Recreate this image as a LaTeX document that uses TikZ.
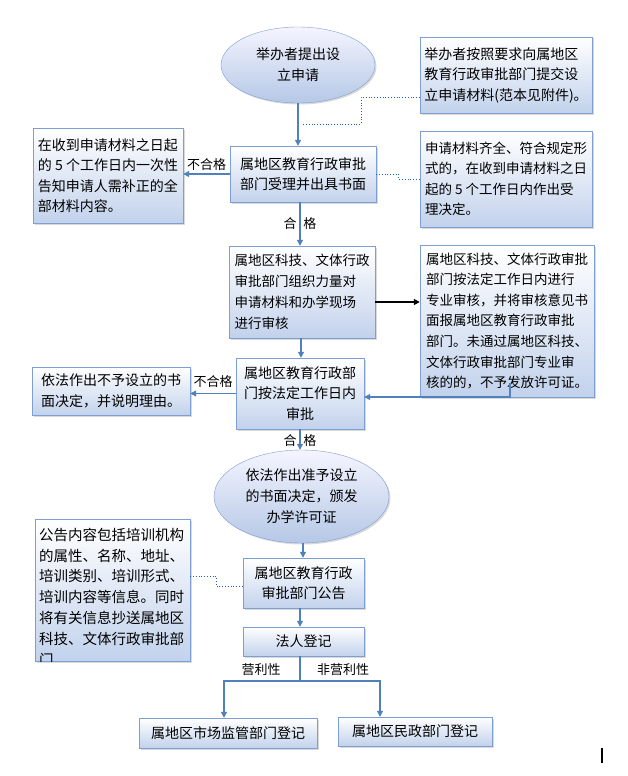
\documentclass[tikz,border=0pt]{standalone}
\usepackage{fontspec}
\setmainfont{Noto Sans CJK SC}
\usepackage{tikz}
\usetikzlibrary{shapes.geometric,shadows,arrows.meta}
\definecolor{bordc}{HTML}{7F9FD3}
\definecolor{fillc}{HTML}{C2D2EC}
\definecolor{ovalc}{HTML}{B5C8E6}
\definecolor{arrc}{HTML}{4F81BD}
\definecolor{dotc}{HTML}{1F5FBF}
\tikzset{
  box/.style={draw=bordc, top color=white, bottom color=fillc, inner sep=4pt, align=left,
    drop shadow={shadow xshift=1.5pt, shadow yshift=-1.5pt, opacity=.3},
    font=\fontsize{14}{20.5}\selectfont},
  oval/.style={ellipse, draw=bordc, top color=blue!4!white, bottom color=ovalc, inner sep=0pt, align=center,
    drop shadow={shadow xshift=1.5pt, shadow yshift=-1.5pt, opacity=.3},
    font=\fontsize{14}{21}\selectfont},
  arr/.style={arrc, line width=1.1pt, -{Triangle[length=6pt,width=6pt]}},
  blk/.style={black, line width=1.6pt, -{Triangle[length=6pt,width=6pt]}},
  dotlink/.style={dotc, dotted, line width=.8pt},
  lab/.style={text=black, font=\fontsize{13}{16}\selectfont, inner sep=1pt}
}
\begin{document}
\begin{tikzpicture}[x=1pt,y=-1pt]
\useasboundingbox (0,0) rectangle (627,776);
\node[oval, minimum width=154pt, minimum height=76pt] (e1) at (298,65) {举办者提出设\\立申请};
\node[box, minimum width=172pt, minimum height=76pt] (rb1) at (506,75) {举办者按照要求向属地区\\教育行政审批部门提交设\\立申请材料(范本见附件)。};
\node[box, minimum width=146pt, minimum height=56pt] (b2) at (303,174) {属地区教育行政审批\\部门受理并出具书面};
\node[box, minimum width=150pt, minimum height=95pt] (lb1) at (108,175.5) {在收到申请材料之日起\\的 5 个工作日内一次性\\告知申请人需补正的全\\部材料内容。};
\node[box, minimum width=172pt, minimum height=96pt, font=\fontsize{13.5}{20.5}\selectfont] (rb2) at (506,179) {申请材料齐全、符合规定形\\式的，在收到申请材料之日\\起的 5 个工作日内作出受\\理决定。};
\node[box, minimum width=146pt, minimum height=92pt, font=\fontsize{13.5}{21}\selectfont] (b3) at (302,292) {属地区科技、文体行政\\审批部门组织力量对\\申请材料和办学现场\\进行审核};
\node[box, minimum width=174pt, minimum height=152pt, font=\fontsize{13.5}{20.6}\selectfont] (rb3) at (507,321) {属地区科技、文体行政审批\\部门按法定工作日内进行\\专业审核，并将审核意见书\\面报属地区教育行政审批\\部门。未通过属地区科技、\\文体行政审批部门专业审\\核的的，不予发放许可证。};
\node[box, minimum width=128pt, minimum height=71pt, align=center, font=\fontsize{14}{20.3}\selectfont] (b4) at (300,393.5) {属地区教育行政部\\门按法定工作日内\\审批};
\node[box, minimum width=158pt, minimum height=48pt, font=\fontsize{14}{21}\selectfont] (lb2) at (111,391) {依法作出不予设立的书\\面决定，并说明理由。};
\node[oval, minimum width=175pt, minimum height=93pt] (e2) at (301.5,496.5) {依法作出准予设立\\的书面决定，颁发\\办学许可证};
\node[box, minimum width=121pt, minimum height=50pt, align=center, font=\fontsize{14}{20}\selectfont] (b5) at (303.5,583) {属地区教育行政\\审批部门公告};
\node[box, minimum width=155pt, minimum height=142pt] (lb3) at (112.5,590) {};
\begin{scope}
\clip (lb3.south west) rectangle (lb3.north east);
\node[anchor=north west, inner sep=4pt, align=left, font=\fontsize{14.5}{20.8}\selectfont] (lb3t) at ([yshift=-5pt]lb3.north west) {公告内容包括培训机构\\的属性、名称、地址、\\培训类别、培训形式、\\培训内容等信息。同时\\将有关信息抄送属地区\\科技、文体行政审批部\\门};
\end{scope}
\node[box, minimum width=121pt, minimum height=29pt, align=center] (b6) at (303.5,641.5) {法人登记};
\node[box, minimum width=178pt, minimum height=30pt, align=center] (b7) at (228,733) {属地区市场监管部门登记};
\node[box, minimum width=154pt, minimum height=29pt, align=center] (b8) at (415,731.5) {属地区民政部门登记};
\coordinate (c1) at (302,124);
\coordinate (c2) at (510,383);
\coordinate (sp) at (300,681);
\draw[arr] (e1.south) -- (e1.south |- b2.north);
\draw[dotlink] ([yshift=-22pt]rb1.west) -| (361,124) -- (c1);
\draw[arr] (b2.west) -- (b2.west -| lb1.east) node[lab, midway, above=2pt] {不合格};
\draw[dotlink] (b2.east) -- ++(22,0) |- (rb2.west);
\draw[arr] (b2.south -| 300,0) -- (b3.north -| 300,0) node[lab, midway] {合\hspace{7pt}格};
\draw[blk] ([yshift=-10pt]b3.east) -- ([yshift=-10pt]b3.east -| rb3.west);
\draw[arr] (b3.south -| 301,0) -- (b4.north -| 301,0);
\draw[arr] (c2) |- ([yshift=-3.5pt]b4.east);
\draw[arr] (b4.west) -- (b4.west -| lb2.east) node[lab, midway, above=4pt] {不合格};
\draw[arr] (b4.south -| 300,0) -- (e2.north -| 300,0) node[lab, pos=.55] {合\hspace{7pt}格};
\draw[arr] (e2.south -| 303,0) -- (b5.north -| 303,0);
\draw[dotlink] ([yshift=14pt]lb3.east) -- ++(26,0) |- ([yshift=-3pt]b5.west);
\draw[arr] (b5.south -| 300,0) -- (b6.north -| 300,0);
\draw[arrc, line width=1.1pt] (b6.south -| sp) -- (sp);
\draw[arr] (sp) -| ([xshift=-4pt]b7.north);
\draw[arr] (sp) -| ([xshift=-35pt]b8.north);
\node[lab] (yl) at (261,670) {营利性};
\node[lab] (fyl) at (343,670) {非营利性};
\draw[line width=1.5pt] (602,748) -- (602,763);
\end{tikzpicture}
\end{document}
